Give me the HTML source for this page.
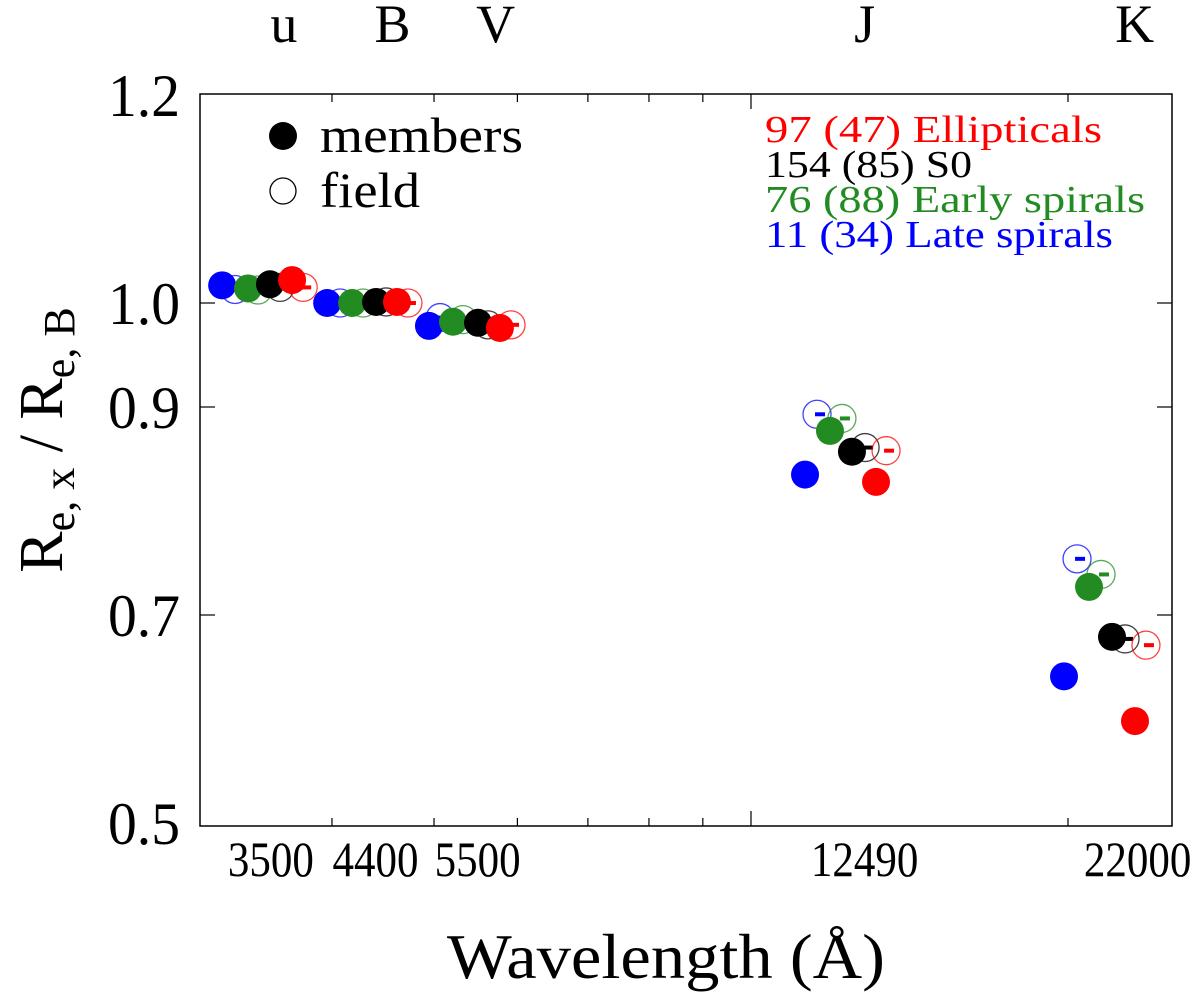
<!DOCTYPE html>
<html><head><meta charset="utf-8"><style>
html,body{margin:0;padding:0;background:#fff;}
svg{display:block;font-family:"Liberation Serif",serif;}
</style></head><body>
<svg id="chart" width="1200" height="994" viewBox="0 0 1200 994" xmlns="http://www.w3.org/2000/svg">
<g id="marks"></g>
<rect x="200" y="94" width="972" height="732" fill="none" stroke="#000" stroke-width="1.5"/>
<g id="axes"></g>
<g>
<circle cx="283" cy="136" r="14" fill="#000"/>
<text x="320" y="152" font-size="50" textLength="203" lengthAdjust="spacingAndGlyphs">members</text>
<circle cx="283" cy="191" r="13" fill="none" stroke="#000" stroke-width="1.3"/>
<text x="320" y="207" font-size="50" textLength="100" lengthAdjust="spacingAndGlyphs">field</text>
</g>
<g font-size="38">
<text x="765" y="142" fill="#ff0000" textLength="337" lengthAdjust="spacingAndGlyphs">97 (47) Ellipticals</text>
<text x="765" y="177" fill="#000" textLength="207" lengthAdjust="spacingAndGlyphs">154 (85) S0</text>
<text x="765" y="212" fill="#228b22" textLength="380" lengthAdjust="spacingAndGlyphs">76 (88) Early spirals</text>
<text x="765" y="247" fill="#0000ff" textLength="348" lengthAdjust="spacingAndGlyphs">11 (34) Late spirals</text>
</g>
<text transform="translate(62,440) rotate(-90)" text-anchor="middle" font-size="62">R<tspan font-size="44" dy="12">e, x</tspan><tspan dy="-12"> / R</tspan><tspan font-size="44" dy="12">e, B</tspan></text>
<text x="666" y="978" text-anchor="middle" font-size="64" textLength="438" lengthAdjust="spacingAndGlyphs">Wavelength (Å)</text>
</svg>
<script>
const bandLabels=["u","B","V","J","K"];
const bandLambda=[3500,4400,5500,12490,22000];
const tickLabels=["3500","4400","5500","12490","22000"];
const minorTicks=[4000,5000,6000,7000,8000,9000,20000];
const majorTicks=[10000];
const yTicks=[1.2,1.0,0.9,0.7,0.5];
const yTickLabels=["1.2","1.0","0.9","0.7","0.5"];
const seriesNames=["late-member","late-field","early-member","early-field","s0-member","s0-field","ell-member","ell-field"];
const lateMemberLambda=[3146,3958,4945,11254,19827];
const lateMemberRatio=[1.017,1.0,0.978,0.835,0.641];
const lateFieldLambda=[3236,4072,5067,11553,20400];
const lateFieldRatio=[1.013,1.0,0.986,0.893,0.754];
const earlyMemberLambda=[3329,4180,5212,11885,20941];
const earlyMemberRatio=[1.014,1.0,0.982,0.877,0.727];
const earlyFieldLambda=[3402,4281,5327,12200,21498];
const earlyFieldRatio=[1.0125,1.0,0.984,0.889,0.739];
const s0MemberLambda=[3493,4405,5505,12470,22020];
const s0MemberRatio=[1.018,1.001,0.981,0.857,0.679];
const s0FieldLambda=[3571,4502,5626,12834,22656];
const s0FieldRatio=[1.015,1.001,0.979,0.861,0.677];
const ellMemberLambda=[3666,4611,5775,13144,23156];
const ellMemberRatio=[1.022,1.001,0.976,0.828,0.598];
const ellFieldLambda=[3756,4723,5917,13436,23718];
const ellFieldRatio=[1.015,1.0,0.979,0.858,0.671];

const NS="http://www.w3.org/2000/svg";
function xs(l){return 751+1053*(Math.log10(l)-4);}
function ys(v){return 303-(v-1)*1040;}
function mk(tag,attrs,parent){const e=document.createElementNS(NS,tag);for(const k in attrs)e.setAttribute(k,attrs[k]);parent.appendChild(e);return e;}
const axes=document.getElementById('axes');
const marks=document.getElementById('marks');
const T=94,B=826,L=200,R=1172;
minorTicks.forEach(t=>{const x=xs(t);
 let a=mk('line',{x1:x,x2:x,y1:B,y2:B-8,stroke:'#000','stroke-width':1.2},axes);
 
 
 let b=mk('line',{x1:x,x2:x,y1:T,y2:T+8,stroke:'#000','stroke-width':1.2},axes);
 
 });
majorTicks.forEach(t=>{const x=xs(t);
 let a=mk('line',{x1:x,x2:x,y1:B,y2:B-15,stroke:'#000','stroke-width':1.2},axes);
 
 
 let b=mk('line',{x1:x,x2:x,y1:T,y2:T+15,stroke:'#000','stroke-width':1.2},axes);
 
 });
const labelDx=[0,0,0,12,26];
const bandDx=[13,17,18,12,23];
tickLabels.forEach((s,i)=>{
 const w=s.length*21.5;
 let t=mk('text',{x:xs(bandLambda[i])+labelDx[i]-w/2,y:876,'font-size':50,textLength:w,lengthAdjust:'spacingAndGlyphs'},axes);
 t.textContent=s;
 
 
 let b=mk('text',{x:xs(bandLambda[i])+bandDx[i],y:42,'text-anchor':'middle','font-size':54},axes);
 b.textContent=bandLabels[i];
 
 });
yTicks.forEach((v,i)=>{const y=ys(v);
 if(v<1.15&&v>0.52){
 let a=mk('line',{x1:L,x2:L+15,y1:y,y2:y,stroke:'#000','stroke-width':1.2},axes);
 
 
 let b=mk('line',{x1:R,x2:R-15,y1:y,y2:y,stroke:'#000','stroke-width':1.2},axes);
 
 }
 let t=mk('text',{x:108,y:y+21,'font-size':60,textLength:72,lengthAdjust:'spacingAndGlyphs'},axes);
 t.textContent=yTickLabels[i];
 
 });
const series=[
 [lateMemberLambda,lateMemberRatio,'#0000ff',true],
 [lateFieldLambda,lateFieldRatio,'#0000ff',false],
 [earlyMemberLambda,earlyMemberRatio,'#228b22',true],
 [earlyFieldLambda,earlyFieldRatio,'#228b22',false],
 [s0MemberLambda,s0MemberRatio,'#000000',true],
 [s0FieldLambda,s0FieldRatio,'#000000',false],
 [ellMemberLambda,ellMemberRatio,'#ff0000',true],
 [ellFieldLambda,ellFieldRatio,'#ff0000',false]];
series.forEach((s,si)=>{
 const g=mk('g',{},marks);
 
 
 s[0].forEach((l,i)=>{
  const cx=xs(l),cy=ys(s[1][i]);
  let c;
  if(s[3]) c=mk('circle',{cx:cx,cy:cy,r:14,fill:s[2]},g);
  else c=mk('circle',{cx:cx,cy:cy,r:14,fill:'none',stroke:s[2],'stroke-width':1.3,'stroke-opacity':0.75},g);
  
  
  let e=mk('rect',{x:cx-2,y:cy-2,width:10,height:4,fill:s[2]},g);
  
  
 });
});
</script>
</body></html>
